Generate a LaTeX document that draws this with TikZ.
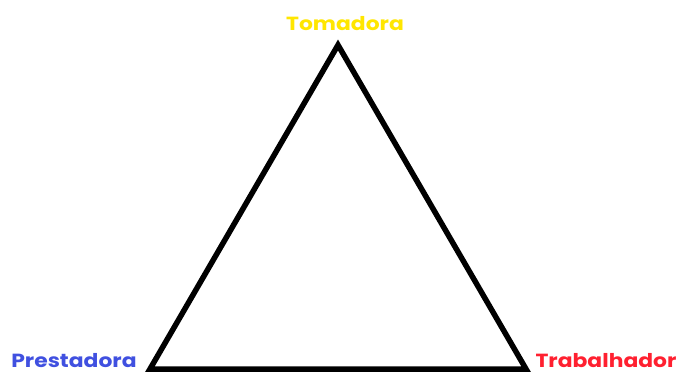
\documentclass[tikz,border=0pt]{standalone}
\usepackage{graphicx}
\usepackage{fontspec}
\setmainfont{Poppins}
\definecolor{tyellow}{HTML}{FFE600}
\definecolor{tblue}{HTML}{4050E0}
\definecolor{tred}{HTML}{FF2030}
\newcommand{\widelbl}[1]{\scalebox{1.15}[1]{#1}}
\begin{document}
\begin{tikzpicture}[x=1pt,y=-1pt,
  lbl/.style={font=\fontsize{19}{22}\selectfont\bfseries, inner sep=0pt}]
\useasboundingbox (0,0) rectangle (680,374);
\coordinate (top) at (338,45);
\coordinate (bl) at (150,369);
\coordinate (br) at (526,369);
\draw[line width=5.5pt, line join=miter] (top) -- (bl) -- (br) -- cycle;
\node[lbl, text=tyellow] (tom) at (345,24) {\widelbl{Tomadora}};
\node[lbl, text=tblue] (pre) at (74,361) {\widelbl{Prestadora}};
\node[lbl, text=tred] (tra) at (606,361) {\widelbl{Trabalhador}};
\end{tikzpicture}
\end{document}
